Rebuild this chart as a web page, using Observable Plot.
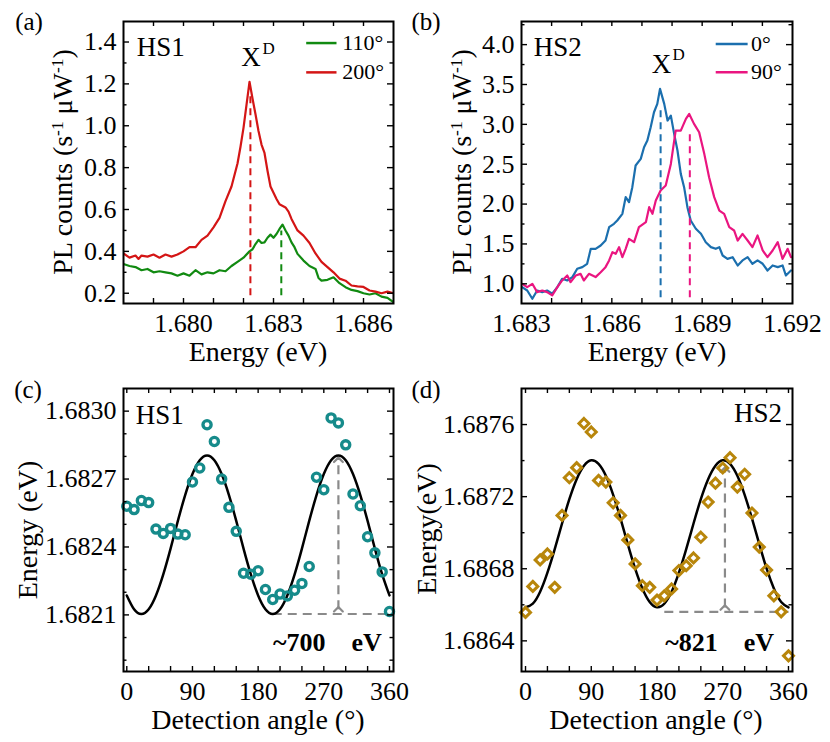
<!DOCTYPE html>
<html><head><meta charset="utf-8">
<script src="https://cdn.jsdelivr.net/npm/d3@7"></script>
<script src="https://cdn.jsdelivr.net/npm/@observablehq/plot@0.6"></script>
<style>
body{margin:0;background:#fff;}
#fig{position:relative;width:830px;height:742px;font-family:"Liberation Serif","Times New Roman",serif;color:#000;background:#fff;overflow:hidden;}
.p{position:absolute;}
.t{position:absolute;white-space:nowrap;transform:translate(-50%,-50%);font-size:27px;line-height:0.9;}
.r{transform:translate(-50%,-50%) rotate(-90deg);}
sup{font-size:0.62em;vertical-align:0.55em;line-height:0;}
</style></head><body><div id="fig"></div>
<script>
// ---------- Panel (a): HS1 spectra ----------
const a200E = [1.6780,1.6782,1.6784,1.6785,1.6786,1.6788,1.6790,1.6792,1.6794,1.6796,1.6798,1.6800,1.6802,1.6804,1.6806,1.6808,1.6810,1.6812,1.6814,1.6816,1.6818,1.6819,1.6820,1.6821,1.6822,1.6823,1.6824,1.6825,1.6826,1.6827,1.6828,1.6829,1.6830,1.6831,1.6832,1.6834,1.6835,1.6836,1.6838,1.6840,1.6842,1.6844,1.6846,1.6848,1.6850,1.6852,1.6854,1.6856,1.6858,1.6860,1.6862,1.6864,1.6866,1.6868,1.6870];
const a200 = [0.39,0.37,0.38,0.364,0.38,0.375,0.385,0.37,0.385,0.375,0.385,0.40,0.42,0.42,0.455,0.475,0.515,0.56,0.64,0.71,0.82,0.90,0.99,1.10,1.21,1.13,1.055,0.975,0.91,0.87,0.785,0.71,0.68,0.65,0.625,0.61,0.59,0.555,0.50,0.475,0.44,0.39,0.35,0.325,0.30,0.27,0.26,0.237,0.233,0.23,0.213,0.208,0.20,0.208,0.20];
const a110E = [1.6780,1.6782,1.6784,1.6786,1.6788,1.6790,1.6792,1.6794,1.6796,1.6798,1.6800,1.6802,1.6804,1.6806,1.6808,1.6810,1.6812,1.6814,1.6816,1.6818,1.6820,1.6822,1.6823,1.6824,1.6825,1.6826,1.6827,1.6828,1.6829,1.6830,1.6831,1.6832,1.6833,1.6834,1.6835,1.6836,1.6837,1.6838,1.6840,1.6842,1.6844,1.6845,1.6846,1.6848,1.6850,1.6852,1.6854,1.6856,1.6858,1.6860,1.6862,1.6864,1.6866,1.6868,1.6870];
const a110 = [0.34,0.33,0.325,0.31,0.316,0.30,0.305,0.30,0.295,0.284,0.295,0.284,0.31,0.29,0.30,0.295,0.31,0.305,0.33,0.35,0.37,0.40,0.41,0.435,0.455,0.44,0.443,0.465,0.48,0.465,0.483,0.507,0.528,0.50,0.475,0.443,0.42,0.388,0.356,0.33,0.316,0.273,0.26,0.264,0.276,0.248,0.229,0.216,0.21,0.20,0.194,0.20,0.184,0.178,0.157];
const aPeakE = [1.68223, 1.68326];
const aPeakTop = [1.15, 0.50];
const aLegend = ["110°", "200°"];

// ---------- Panel (b): HS2 spectra ----------
const b0E = [1.68302,1.68319,1.68336,1.68352,1.68369,1.68385,1.68402,1.68419,1.68435,1.68452,1.68469,1.68485,1.68502,1.68518,1.68530,1.68546,1.68563,1.68579,1.68591,1.68607,1.68618,1.68635,1.68646,1.68657,1.68668,1.68679,1.68696,1.68707,1.68718,1.68729,1.68740,1.68751,1.68760,1.68774,1.68785,1.68796,1.68807,1.68818,1.68829,1.68840,1.68851,1.68862,1.68879,1.68896,1.68912,1.68929,1.68945,1.68957,1.68968,1.68984,1.69001,1.69018,1.69034,1.69051,1.69067,1.69084,1.69101,1.69117,1.69134,1.69151,1.69167,1.69178,1.69195];
const b0 = [0.958,0.916,0.812,0.916,0.896,0.916,0.875,0.958,1.063,1.042,1.084,1.188,1.209,1.251,1.439,1.439,1.481,1.543,1.71,1.752,1.794,1.878,2.087,2.024,2.212,2.484,2.567,2.713,2.797,2.964,3.152,3.257,3.445,3.257,3.048,3.11,2.88,2.672,2.379,2.212,1.961,1.794,1.69,1.627,1.522,1.46,1.439,1.46,1.355,1.313,1.334,1.23,1.293,1.334,1.251,1.293,1.251,1.167,1.23,1.209,1.23,1.104,1.167];
const b90E = [1.68302,1.68319,1.68336,1.68352,1.68369,1.68385,1.68402,1.68419,1.68435,1.68452,1.68463,1.68480,1.68496,1.68507,1.68524,1.68546,1.68563,1.68579,1.68591,1.68602,1.68613,1.68624,1.68635,1.68646,1.68657,1.68674,1.68690,1.68713,1.68724,1.68735,1.68746,1.68762,1.68779,1.68796,1.68812,1.68829,1.68846,1.68857,1.68873,1.68890,1.68907,1.68923,1.68940,1.68957,1.68973,1.68990,1.69006,1.69018,1.69034,1.69051,1.69067,1.69084,1.69101,1.69117,1.69134,1.69151,1.69167,1.69184,1.69195];
const b90 = [1.0,0.958,1.0,0.896,0.916,0.896,0.854,0.958,1.042,1.104,1.021,1.104,1.125,1.042,1.125,1.084,1.146,1.209,1.293,1.397,1.376,1.46,1.334,1.439,1.564,1.522,1.71,1.773,1.961,1.878,2.045,2.17,2.233,2.504,2.922,2.922,3.069,3.131,3.006,2.901,2.63,2.337,2.087,1.919,1.878,1.71,1.669,1.543,1.627,1.543,1.46,1.606,1.418,1.334,1.418,1.522,1.313,1.439,1.334];
const bPeakE = [1.68762, 1.68859];
const bPeakTop = [3.21, 2.88];
const bLegend = ["0°", "90°"];

// ---------- Panel (c): HS1 energy vs angle ----------
const cAngle = [0,10,20,30,40,50,60,70,80,90,100,110,120,130,140,150,160,170,180,190,200,210,220,230,240,250,260,270,280,290,300,310,320,330,340,350,360];
const cEnergy = [1.68258,1.682565,1.682605,1.682596,1.682479,1.68246,1.682482,1.682457,1.682454,1.682687,1.682749,1.68294,1.682866,1.6827,1.682575,1.682469,1.682284,1.68228,1.682295,1.682212,1.682168,1.682192,1.682184,1.682209,1.682239,1.682314,1.682708,1.682653,1.68297,1.682948,1.682851,1.682634,1.682582,1.682445,1.682374,1.68229,1.682115];
const cFit = [1.682186,1.682125,1.682104,1.682125,1.682186,1.682279,1.682393,1.682515,1.682629,1.682722,1.682783,1.682804,1.682783,1.682722,1.682629,1.682515,1.682393,1.682279,1.682186,1.682125,1.682104,1.682125,1.682186,1.682279,1.682393,1.682515,1.682629,1.682722,1.682783,1.682804,1.682783,1.682722,1.682629,1.682515,1.682393,1.682279,1.682186];

// ---------- Panel (d): HS2 energy vs angle ----------
const dAngle = cAngle;
const dEnergy = [1.686558,1.686702,1.686849,1.686882,1.686697,1.687096,1.687305,1.687361,1.687606,1.687559,1.68729,1.687281,1.687166,1.687096,1.68696,1.686827,1.686706,1.686697,1.686626,1.68665,1.686688,1.68679,1.686817,1.68686,1.686975,1.68717,1.687275,1.687359,1.687416,1.687253,1.687324,1.687109,1.68692,1.686793,1.68665,1.686561,1.686317];
const dFit = [1.686586,1.686606,1.686672,1.686778,1.686909,1.687051,1.687186,1.687297,1.687372,1.687402,1.687382,1.687316,1.68721,1.687079,1.686937,1.686802,1.686691,1.686616,1.686586,1.686606,1.686672,1.686778,1.686909,1.687051,1.687186,1.687297,1.687372,1.687402,1.687382,1.687316,1.68721,1.687079,1.686937,1.686802,1.686691,1.686616,1.686586];

// ---------- tick values ----------
const aXTicks = [1.679,1.680,1.681,1.682,1.683,1.684,1.685,1.686];
const aXLabels = [1.680,1.683,1.686];
const aYMajor = [0.2,0.4,0.6,0.8,1.0,1.2,1.4];
const aYMinor = [0.3,0.5,0.7,0.9,1.1,1.3];
const bXTicks = [1.684,1.685,1.686,1.687,1.688,1.689,1.690,1.691];
const bXLabels = [1.683,1.686,1.689,1.692];
const bYMajor = [1.0,1.5,2.0,2.5,3.0,3.5,4.0];
const bYMinor = [1.25,1.75,2.25,2.75,3.25,3.75,4.25];
const angTicks = [0,30,60,90,120,150,180,210,240,270,300,330,360];
const angLabels = [0,90,180,270,360];
const cYMajor = [1.6821,1.6824,1.6827,1.6830];
const cYMinor = [1.6819,1.6820,1.6822,1.6823,1.6825,1.6826,1.6828,1.6829];
const dYMajor = [1.6864,1.6868,1.6872,1.6876];
const dYMinor = [1.6866,1.6870,1.6874];

const C = {green:"#118a11", red:"#d41515", blue:"#1b6fae", pink:"#ea1580", teal:"#168b8b", gold:"#b8860b", gray:"#8a8a8a"};

const fig = document.getElementById("fig");
function addText(html, x, y, cls, size) {
  const d = document.createElement("div");
  d.className = "t " + (cls || "");
  d.style.left = x + "px"; d.style.top = y + "px";
  if (size) d.style.fontSize = size + "px";
  d.innerHTML = html;
  fig.appendChild(d);
}

function panel(o) {
  const width = 415, height = 371;
  const W = width - o.ml - o.mr, H = height - o.mt - o.mb;
  const MAJ = 6, MIN = 3.5, sw = 1.4;
  const tx = (vals, len) => [
    Plot.tickX(vals, {x: d => d, insetTop: H - len, stroke: "#000", strokeWidth: sw}),
    Plot.tickX(vals, {x: d => d, insetBottom: H - len, stroke: "#000", strokeWidth: sw})
  ];
  const ty = (vals, len) => [
    Plot.tickY(vals, {y: d => d, insetRight: W - len, stroke: "#000", strokeWidth: sw}),
    Plot.tickY(vals, {y: d => d, insetLeft: W - len, stroke: "#000", strokeWidth: sw})
  ];
  const chart = Plot.plot({
    width, height,
    marginLeft: o.ml, marginRight: o.mr, marginTop: o.mt, marginBottom: o.mb,
    x: {domain: o.xDomain}, y: {domain: o.yDomain},
    style: {fontFamily: "Liberation Serif, Times New Roman, serif", fontSize: "26px", background: "transparent", color: "#000", overflow: "visible"},
    marks: [
      ...o.marks,
      ...tx(o.xTicks, 5),
      ...ty(o.yMajor, MAJ),
      ...ty(o.yMinor, MIN),
      Plot.frame({stroke: "#000", strokeWidth: 2}),
      Plot.axisX(o.xLabels, {tickSize: 0, tickPadding: 10, tickFormat: o.xFmt, fontSize: 26, label: null}),
      Plot.axisY(o.yMajor, {tickSize: 0, tickPadding: 7, tickFormat: o.yFmt, fontSize: 26, label: null})
    ]
  });
  const w = document.createElement("div");
  w.className = "p"; w.style.left = o.left + "px"; w.style.top = o.top + "px";
  w.appendChild(chart);
  fig.appendChild(w);
}

const dash = {strokeDasharray: "7,5", strokeWidth: 2};

// (a)
panel({
  left: 0, top: 0, ml: 123, mr: 22, mt: 21, mb: 68,
  xDomain: [1.678, 1.687], yDomain: [0.151, 1.498],
  xTicks: aXTicks, xLabels: aXLabels, yMajor: aYMajor, yMinor: aYMinor,
  xFmt: d3.format(".3f"), yFmt: d3.format(".1f"),
  marks: [
    Plot.line(a110E.map((e, i) => [e, a110[i]]), {x: "0", y: "1", stroke: C.green, strokeWidth: 2.2, clip: true}),
    Plot.line(a200E.map((e, i) => [e, a200[i]]), {x: "0", y: "1", stroke: C.red, strokeWidth: 2.2, clip: true}),
    Plot.link([0], {x1: aPeakE[0], x2: aPeakE[0], y1: 0.19, y2: aPeakTop[0], stroke: C.red, ...dash}),
    Plot.link([0], {x1: aPeakE[1], x2: aPeakE[1], y1: 0.19, y2: aPeakTop[1], stroke: C.green, ...dash}),
    Plot.text(["HS1"], {x: 1.67844, y: 1.373, text: d => d, textAnchor: "start", fontSize: 27}),
    Plot.text(["X"], {x: 1.68225, y: 1.326, text: d => d, fontSize: 27}),
    Plot.text(["D"], {x: 1.68284, y: 1.368, text: d => d, fontSize: 17}),
    Plot.link([0], {x1: 1.68409, x2: 1.68510, y1: 1.395, y2: 1.395, stroke: C.green, strokeWidth: 2.5}),
    Plot.link([0], {x1: 1.68409, x2: 1.68510, y1: 1.255, y2: 1.255, stroke: C.red, strokeWidth: 2.5}),
    Plot.text(aLegend, {x: 1.68529, y: [1.395, 1.255], text: d => d, textAnchor: "start", fontSize: 22})
  ]
});

// (b)
panel({
  left: 415, top: 0, ml: 106, mr: 38, mt: 21, mb: 68,
  xDomain: [1.683, 1.692], yDomain: [0.753, 4.29],
  xTicks: bXTicks, xLabels: bXLabels, yMajor: bYMajor, yMinor: bYMinor,
  xFmt: d3.format(".3f"), yFmt: d3.format(".1f"),
  marks: [
    Plot.line(b0E.map((e, i) => [e, b0[i]]), {x: "0", y: "1", stroke: C.blue, strokeWidth: 2.2, clip: true}),
    Plot.line(b90E.map((e, i) => [e, b90[i]]), {x: "0", y: "1", stroke: C.pink, strokeWidth: 2.2, clip: true}),
    Plot.link([0], {x1: bPeakE[0], x2: bPeakE[0], y1: 0.83, y2: bPeakTop[0], stroke: C.blue, ...dash}),
    Plot.link([0], {x1: bPeakE[1], x2: bPeakE[1], y1: 0.83, y2: bPeakTop[1], stroke: C.pink, ...dash}),
    Plot.text(["HS2"], {x: 1.68341, y: 3.967, text: d => d, textAnchor: "start", fontSize: 27}),
    Plot.text(["X"], {x: 1.68765, y: 3.758, text: d => d, fontSize: 27}),
    Plot.text(["D"], {x: 1.68822, y: 3.87, text: d => d, fontSize: 17}),
    Plot.link([0], {x1: 1.68945, x2: 1.69051, y1: 4.009, y2: 4.009, stroke: C.blue, strokeWidth: 2.5}),
    Plot.link([0], {x1: 1.68945, x2: 1.69051, y1: 3.654, y2: 3.654, stroke: C.pink, strokeWidth: 2.5}),
    Plot.text(bLegend, {x: 1.69062, y: [4.009, 3.654], text: d => d, textAnchor: "start", fontSize: 22})
  ]
});

// (c)
panel({
  left: 0, top: 371, ml: 123, mr: 22, mt: 17, mb: 71,
  xDomain: [-4.5, 365.5], yDomain: [1.68185, 1.6831],
  xTicks: angTicks, xLabels: angLabels, yMajor: cYMajor, yMinor: cYMinor,
  xFmt: d3.format("d"), yFmt: d3.format(".4f"),
  marks: [
    Plot.link([0], {x1: 200, x2: 360, y1: 1.682104, y2: 1.682104, stroke: C.gray, strokeDasharray: "9,6", strokeWidth: 2.2}),
    Plot.link([0], {x1: 290, x2: 290, y1: 1.682125, y2: 1.682785, stroke: C.gray, strokeDasharray: "9,6", strokeWidth: 2.2, markerStart: "arrow", markerEnd: "arrow"}),
    Plot.line(cAngle.map((a, i) => [a, cFit[i]]), {x: "0", y: "1", stroke: "#000", strokeWidth: 2.5, curve: "natural"}),
    Plot.dot(cAngle.map((a, i) => [a, cEnergy[i]]), {x: "0", y: "1", r: 4.1, stroke: C.teal, strokeWidth: 3.3, fill: "none"}),
    Plot.text(["HS1"], {x: 12.3, y: 1.68298, text: d => d, textAnchor: "start", fontSize: 27}),
    Plot.text(["~700\u2002\u2002eV"], {x: 349.6, y: 1.681978, text: d => d, textAnchor: "end", fontSize: 26, fontWeight: "bold"})
  ]
});

// (d)
panel({
  left: 415, top: 371, ml: 106, mr: 38, mt: 17, mb: 71,
  xDomain: [-5.5, 365.5], yDomain: [1.68623, 1.6878],
  xTicks: angTicks, xLabels: angLabels, yMajor: dYMajor, yMinor: dYMinor,
  xFmt: d3.format("d"), yFmt: d3.format(".4f"),
  marks: [
    Plot.link([0], {x1: 190, x2: 360, y1: 1.686561, y2: 1.686561, stroke: C.gray, strokeDasharray: "9,6", strokeWidth: 2.2}),
    Plot.link([0], {x1: 273, x2: 273, y1: 1.686585, y2: 1.68735, stroke: C.gray, strokeDasharray: "9,6", strokeWidth: 2.2, markerStart: "arrow", markerEnd: "arrow"}),
    Plot.line(dAngle.map((a, i) => [a, dFit[i]]), {x: "0", y: "1", stroke: "#000", strokeWidth: 2.5, curve: "natural"}),
    Plot.dot(dAngle.map((a, i) => [a, dEnergy[i]]), {x: "0", y: "1", symbol: "diamond2", r: 4.5, stroke: C.gold, strokeWidth: 3, fill: "none"}),
    Plot.text(["HS2"], {x: 351, y: 1.687661, text: d => d, textAnchor: "end", fontSize: 27}),
    Plot.text(["~821\u2002\u2002eV"], {x: 340.3, y: 1.686391, text: d => d, textAnchor: "end", fontSize: 26, fontWeight: "bold"})
  ]
});

// panel letters
addText("(a)", 29, 22, "", 25);
addText("(b)", 426, 22, "", 25);
addText("(c)", 28, 390, "", 25);
addText("(d)", 426, 390, "", 25);

// axis titles
addText("PL counts (s<sup>-1</sup> μW<sup>-1</sup>)", 63, 162, "r", 28);
addText("PL counts (s<sup>-1</sup> μW<sup>-1</sup>)", 462, 162, "r", 28);
addText("Energy (eV)", 28, 530, "r", 28);
addText("Energy(eV)", 427, 529, "r", 28);
addText("Energy (eV)", 258, 352, "", 28);
addText("Energy (eV)", 657, 352, "", 28);
addText("Detection angle (°)", 258, 720, "", 28);
addText("Detection angle (°)", 656, 720, "", 28);
</script></body></html>
